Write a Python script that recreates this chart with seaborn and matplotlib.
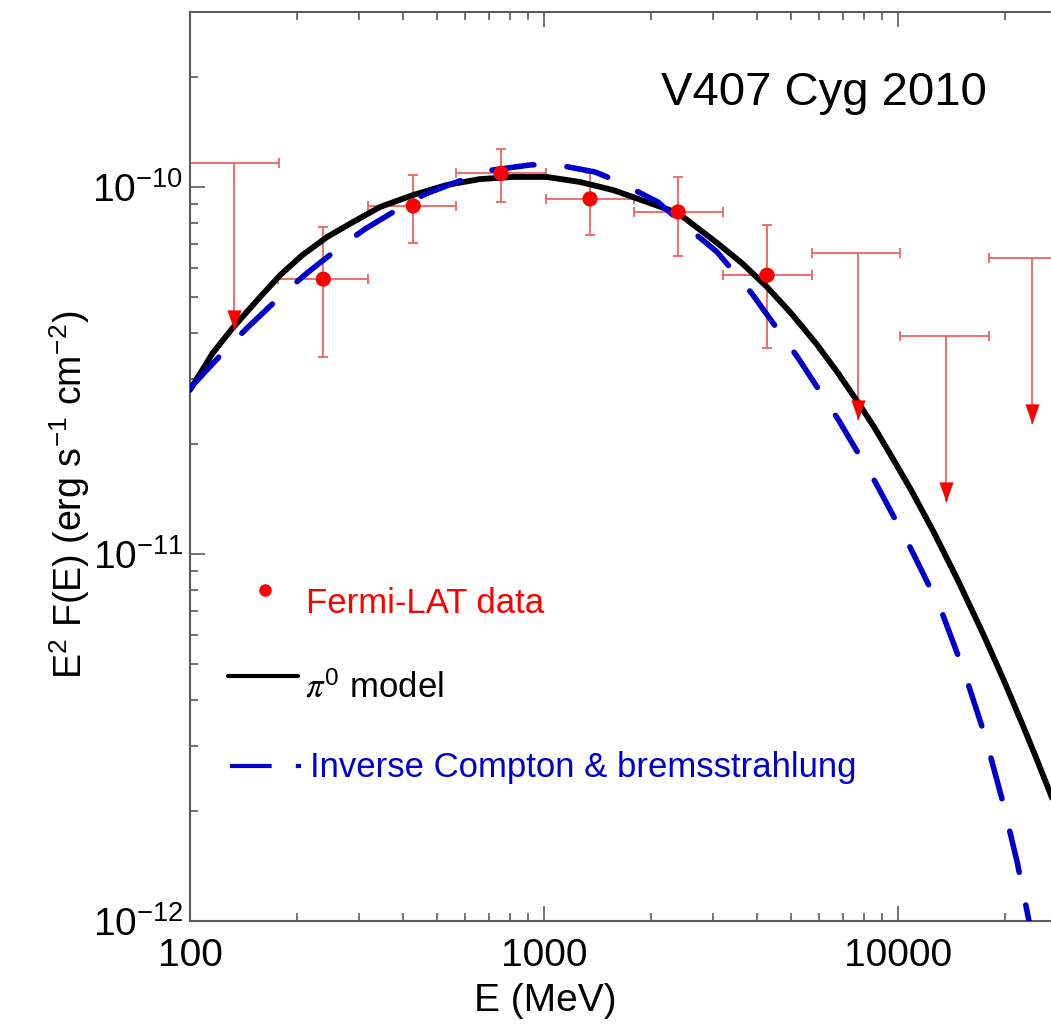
import numpy as np
import pandas as pd
import matplotlib
matplotlib.use("Agg")
import matplotlib.pyplot as plt
import seaborn as sns
from matplotlib.lines import Line2D
from matplotlib.ticker import FixedLocator, LogLocator, NullFormatter, FixedFormatter

# ---------------- data ----------------
# pi0 model curve (MeV, erg s-1 cm-2)
pi0_E = [100, 116, 132, 155, 180, 208, 244, 289, 344, 427, 532, 660, 817, 1019,
         1264, 1567, 1783, 2392, 3083, 3625, 4266, 5018, 5905, 6724, 7709, 8556,
         9480, 10880, 12560, 14770, 17380, 19800, 22530, 24540, 26860, 28700]
pi0_flux = [2.80e-11, 3.53e-11, 4.13e-11, 4.92e-11, 5.76e-11, 6.53e-11, 7.31e-11,
            8.03e-11, 8.82e-11, 9.51e-11, 1.013e-10, 1.051e-10, 1.065e-10, 1.065e-10,
            1.032e-10, 9.81e-11, 9.39e-11, 8.49e-11, 7.04e-11, 6.20e-11, 5.34e-11,
            4.50e-11, 3.72e-11, 3.14e-11, 2.59e-11, 2.22e-11, 1.88e-11, 1.496e-11,
            1.157e-11, 8.47e-12, 6.07e-12, 4.58e-12, 3.41e-12, 2.79e-12, 2.24e-12,
            1.90e-12]

# Inverse Compton & bremsstrahlung curve
ic_E = [100, 126, 145, 183, 214, 270, 312, 427, 470, 618, 713, 912, 1059, 1393,
        1607, 2099, 2455, 3083, 3857, 5202, 6789, 8640, 10810, 13230, 15410,
        17620, 19670, 21690, 23600, 24540]
ic_flux = [2.83e-11, 3.60e-11, 4.13e-11, 5.11e-11, 5.83e-11, 6.95e-11, 7.68e-11,
           9.22e-11, 9.63e-11, 1.065e-10, 1.112e-10, 1.148e-10, 1.155e-10, 1.099e-10,
           1.038e-10, 9.1e-11, 7.98e-11, 6.65e-11, 5.14e-11, 3.44e-11, 2.32e-11,
           1.566e-11, 1.045e-11, 7.04e-12, 4.75e-12, 3.19e-12, 2.15e-12, 1.453e-12,
           9.69e-13, 7.83e-13]

# Fermi-LAT detections
det_E = [238, 427, 756, 1349, 2392, 4266]
det_Elo = [177, 319, 564, 1014, 1795, 3206]
det_Ehi = [319, 564, 1014, 1795, 3206, 5714]
det_flux = [5.61e-11, 8.88e-11, 1.09e-10, 9.28e-11, 8.55e-11, 5.75e-11]
det_flo = [3.44e-11, 7.04e-11, 9.1e-11, 7.4e-11, 6.49e-11, 3.64e-11]
det_fhi = [7.78e-11, 1.08e-10, 1.27e-10, 1.09e-10, 1.065e-10, 7.88e-11]

# Fermi-LAT upper limits
ul_E = [133, 7709, 13680, 23940]
ul_Elo = [100, 5714, 10130, 18070]
ul_Ehi = [178, 10130, 18070, 31600]
ul_flux = [1.16e-10, 6.61e-11, 3.93e-11, 6.41e-11]
ul_tip = [4.07e-11, 2.32e-11, 1.39e-11, 2.26e-11]

x_ticks = [100, 1000, 10000]
x_ticklabels = ["100", "1000", "10000"]
y_ticks = [1e-12, 1e-11, 1e-10]
y_ticklabels = [r"$\mathregular{10^{-12}}$", r"$\mathregular{10^{-11}}$", r"$\mathregular{10^{-10}}$"]

# ---------------- style ----------------
sns.set_theme(style="ticks")
plt.rcParams["font.family"] = ["Liberation Sans", "DejaVu Sans"]
plt.rcParams["mathtext.fontset"] = "stix"
plt.rcParams["text.color"] = "black"

RED = "#ff0000"
ERR = "#f06262"
BLUE = "#0000cc"
SPINE = "#5a5a5a"

W, H = 1051, 1026
fig = plt.figure(figsize=(W / 100, H / 100), dpi=100)
L, R, T, B = 190, 1051, 12, 921
ax = fig.add_axes([L / W, 1 - B / H, (R - L) / W, (B - T) / H])
ax.set_xscale("log")
ax.set_yscale("log")

# error bars (bottom layer)
det_E_a = np.array(det_E); det_f_a = np.array(det_flux)
ax.errorbar(det_E_a, det_f_a,
            xerr=[det_E_a - np.array(det_Elo), np.array(det_Ehi) - det_E_a],
            yerr=[det_f_a - np.array(det_flo), np.array(det_fhi) - det_f_a],
            fmt="none", ecolor=ERR, elinewidth=1.3, capsize=3.6, capthick=1.3, zorder=2)

ul_E_a = np.array(ul_E); ul_f_a = np.array(ul_flux)
ax.errorbar(ul_E_a, ul_f_a,
            xerr=[ul_E_a - np.array(ul_Elo), np.array(ul_Ehi) - ul_E_a],
            fmt="none", ecolor=ERR, elinewidth=1.3, capsize=3.6, capthick=1.3, zorder=2)
ax.vlines(ul_E, ul_tip, ul_flux, colors=ERR, linewidth=1.3, zorder=2)

# model curves
sns.lineplot(x=pi0_E, y=pi0_flux, ax=ax, color="black", linewidth=4.2,
             sort=False, estimator=None, zorder=3, solid_capstyle="round",
             solid_joinstyle="round")
sns.lineplot(x=ic_E, y=ic_flux, ax=ax, color=BLUE, linewidth=4.0,
             linestyle=(0, (7.6, 6.0)), dash_capstyle="round", dash_joinstyle="round",
             sort=False, estimator=None, zorder=3)

# data markers (top)
sns.scatterplot(x=det_E, y=det_flux, ax=ax, color=RED, s=120, edgecolor="none", zorder=5)
arrow_head = [(-0.35, 1.0), (0.35, 1.0), (0.0, 0.0)]
ax.plot(ul_E, ul_tip, linestyle="none", marker=arrow_head, markersize=29,
        color=RED, markeredgewidth=0, zorder=5)

# axes
ax.set_xlim(100, 10 ** (2 + (R - L) / 354))
ax.set_ylim(1e-12, 10 ** (-10 + (187 - T) / 367))
ax.xaxis.set_major_locator(FixedLocator(x_ticks))
ax.xaxis.set_major_formatter(FixedFormatter(x_ticklabels))
ax.xaxis.set_minor_locator(LogLocator(base=10, subs=np.arange(2, 10)))
ax.xaxis.set_minor_formatter(NullFormatter())
ax.yaxis.set_major_locator(FixedLocator(y_ticks))
ax.yaxis.set_major_formatter(FixedFormatter(y_ticklabels))
ax.yaxis.set_minor_locator(LogLocator(base=10, subs=np.arange(2, 10)))
ax.yaxis.set_minor_formatter(NullFormatter())

ax.tick_params(which="both", direction="in", top=True, right=False,
               color=SPINE, width=1.2, labelcolor="black")
ax.tick_params(which="major", length=11, labelsize=28)
ax.tick_params(which="minor", length=5.5)
ax.tick_params(axis="x", which="major", pad=12)
ax.tick_params(axis="y", which="major", pad=5)
for s in ["left", "bottom", "top"]:
    ax.spines[s].set_color(SPINE)
    ax.spines[s].set_linewidth(1.5)
ax.spines["right"].set_visible(False)
ax.set_xlabel("")
ax.set_ylabel("")

# labels
fig.text(545 / W, 1 - 1011 / H, "E (MeV)", ha="center", va="baseline", fontsize=28)
fig.text(70 / W, 1 - 495 / H,
         r"E$^{\mathregular{2}}$ F(E) (erg s$^{\mathregular{-1}}$ cm$^{\mathregular{-2}}$)",
         rotation=90, ha="center", va="center", fontsize=27)
fig.text(661 / W, 1 - 105 / H, "V407 Cyg 2010", ha="left", va="baseline", fontsize=34)

# hand-made legend
fig.add_artist(Line2D([265 / W], [1 - 590 / H], marker="o", markersize=8,
                      color=RED, linestyle="none", transform=fig.transFigure))
fig.text(306 / W, 1 - 613 / H, "Fermi-LAT data", color=RED, fontsize=25,
         ha="left", va="baseline")
fig.add_artist(Line2D([228 / W, 298 / W], [1 - 676 / H, 1 - 676 / H], color="black",
                      linewidth=3.0, transform=fig.transFigure))
fig.text(305 / W, 1 - 697 / H, r"$\pi^{\mathregular{0}}$ model", color="black", fontsize=25,
         ha="left", va="baseline")
fig.add_artist(Line2D([230 / W, 301 / W], [1 - 766 / H, 1 - 766 / H], color=BLUE,
                      linewidth=3.0, linestyle=(0, (10, 5.8)), dash_capstyle="butt",
                      transform=fig.transFigure))
fig.text(310 / W, 1 - 777 / H, "Inverse Compton & bremsstrahlung", color=BLUE,
         fontsize=25, ha="left", va="baseline")

fig.savefig("out.png", dpi=100)
